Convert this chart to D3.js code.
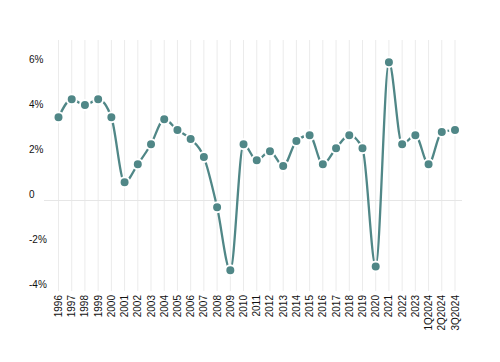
<!DOCTYPE html>
<html>
<head>
<meta charset="utf-8">
<script src="https://cdn.jsdelivr.net/npm/d3@7"></script>
<style>
  body { margin: 0; background: #fff; }
  svg { display: block; font-family: "Liberation Sans", Arial, sans-serif; }
</style>
</head>
<body>
<svg id="chart" width="500" height="362"></svg>
<script>
const categories = ["1996","1997","1998","1999","2000","2001","2002","2003","2004","2005","2006","2007","2008","2009","2010","2011","2012","2013","2014","2015","2016","2017","2018","2019","2020","2021","2022","2023","1Q2024","2Q2024","3Q2024"];
const values = [3.70,4.50,4.24,4.50,3.70,0.81,1.61,2.50,3.61,3.13,2.73,1.93,-0.30,-3.10,2.50,1.79,2.19,1.53,2.64,2.90,1.61,2.32,2.90,2.32,-2.93,6.15,2.50,2.90,1.61,3.04,3.13];
const yTicks = [6,4,2,0,-2,-4];
const yTickLabels = ["6%","4%","2%","0","-2%","-4%"];

const color = "#508787";
const svg = d3.select("#chart");
const plotTop = 40, plotBottom = 291;

const x = d3.scalePoint().domain(categories).range([58.5, 455]);
const y = d3.scaleLinear().domain([-4, 6]).range([290.5, 65.5]);

// vertical gridlines
svg.append("g").selectAll("line").data(categories).join("line")
  .attr("x1", d => x(d)).attr("x2", d => x(d))
  .attr("y1", plotTop).attr("y2", plotBottom)
  .attr("stroke", "#ebebeb").attr("stroke-width", 1);

// zero line
svg.append("line")
  .attr("x1", 44).attr("x2", 462)
  .attr("y1", y(0)).attr("y2", y(0))
  .attr("stroke", "#e6e6e6").attr("stroke-width", 1);

// y labels (above gridline, left-aligned)
svg.append("g").selectAll("text").data(yTicks).join("text")
  .attr("x", 29).attr("y", d => y(d) - 2.5)
  .attr("font-size", 10).attr("fill", "#111")
  .text((d, i) => yTickLabels[i]);

// x labels rotated
svg.append("g").selectAll("text").data(categories).join("text")
  .attr("transform", d => `translate(${x(d) + 3.5},295) rotate(-90)`)
  .attr("text-anchor", "end")
  .attr("font-size", 10).attr("fill", "#111")
  .text(d => d);

const data = categories.map((c, i) => ({c, v: values[i]}));

const line = d3.line().x(d => x(d.c)).y(d => y(d.v)).curve(d3.curveMonotoneX);
svg.append("path").datum(data)
  .attr("d", line).attr("fill", "none")
  .attr("stroke", color).attr("stroke-width", 2.3);

svg.append("g").selectAll("circle").data(data).join("circle")
  .attr("cx", d => x(d.c)).attr("cy", d => y(d.v))
  .attr("r", 5).attr("fill", color)
  .attr("stroke", "#fff").attr("stroke-width", 2);
</script>
</body>
</html>
